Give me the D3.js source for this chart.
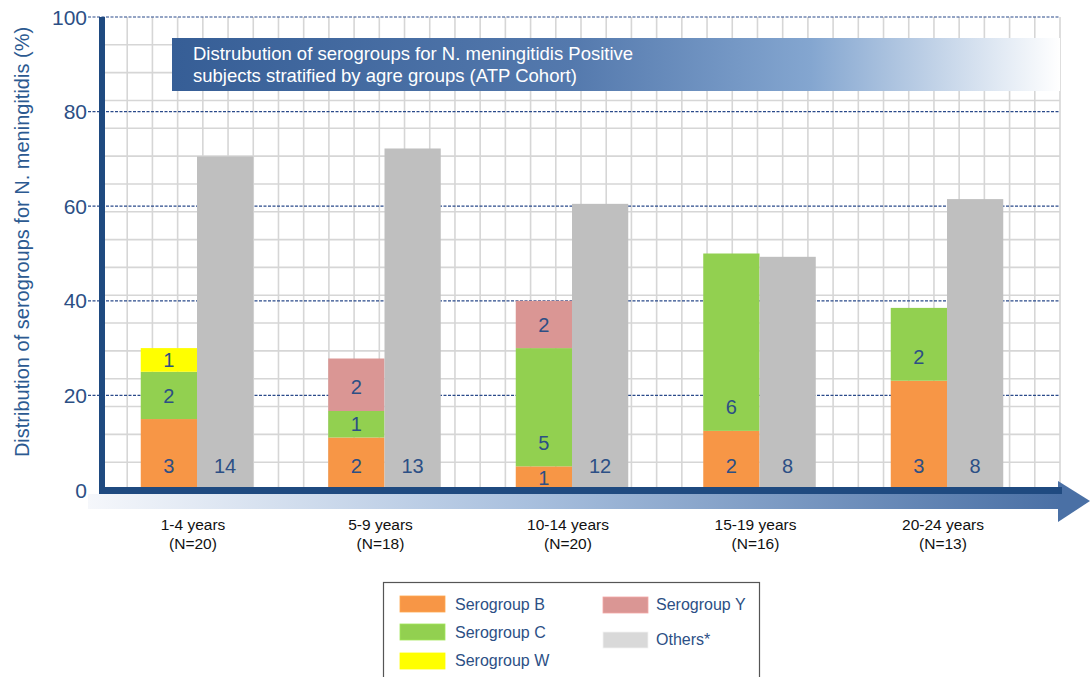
<!DOCTYPE html>
<html><head><meta charset="utf-8">
<script src="https://cdn.jsdelivr.net/npm/d3@7"></script>
<style>
html,body{margin:0;padding:0;background:#fff;}
svg{display:block;font-family:"Liberation Sans",Arial,Helvetica,sans-serif;}
</style></head>
<body>
<svg id="chart" width="1090" height="677"></svg>
<script>
// ---- data ----
const categories = ["1-4 years","5-9 years","10-14 years","15-19 years","20-24 years"];
const nLabels = ["(N=20)","(N=18)","(N=20)","(N=16)","(N=13)"];
// percentages (height of each segment, %)
const serogroupB = [15, 11.1, 5, 12.5, 23.1];
const serogroupC = [10, 5.6, 25, 37.5, 15.4];
const serogroupW = [5, 0, 0, 0, 0];
const serogroupY = [0, 11.1, 10, 0, 0];
const others     = [70.5, 72.2, 60.5, 49.3, 61.5];
// counts printed on segments
const countB = [3, 2, 1, 2, 3];
const countC = [2, 1, 5, 6, 2];
const countW = [1, null, null, null, null];
const countY = [null, 2, 2, null, null];
const countOthers = [14, 13, 12, 8, 8];
const yTicks = [0, 20, 40, 60, 80, 100];
const legendLabels = ["Serogroup B","Serogroup C","Serogroup W","Serogroup Y","Others*"];
const titleLines = ["Distrubution of serogroups for N. meningitidis Positive","subjects stratified by agre groups (ATP Cohort)"];
const yLabel = "Distribution of serogroups for N. meningitidis (%)";

// ---- styles ----
const col = {B:"#f79646", C:"#92d050", W:"#ffff00", Y:"#da9694", O:"#bfbfbf", Oleg:"#d9d9d9"};
const navy = "#1f4a80", textBlue = "#2c4f85";

const svg = d3.select("#chart");
const defs = svg.append("defs");

const plotL = 102, plotR = 1060, plotT = 17, plotB = 490;
const y = d3.scaleLinear().domain([0,100]).range([plotB, plotT]);
const x0 = d3.scaleBand().domain(categories).range([103.25, 1040.75]).paddingInner(0.4).paddingOuter(0.2);
const x1 = d3.scaleBand().domain(["stack","others"]).range([0, x0.bandwidth()]);

// graph-paper grid
const gridG = svg.append("g");
const vStep = (plotR - plotL) / 38, hStep = (plotB - plotT) / 17;
gridG.selectAll("line.v").data(d3.range(1, 39)).join("line")
  .attr("x1", i => plotL + i*vStep).attr("x2", i => plotL + i*vStep)
  .attr("y1", plotT).attr("y2", plotB)
  .attr("stroke", "#d6d6d6").attr("stroke-width", 1.6);
gridG.selectAll("line.h").data(d3.range(1, 17)).join("line")
  .attr("x1", plotL).attr("x2", plotR)
  .attr("y1", i => plotT + i*hStep).attr("y2", i => plotT + i*hStep)
  .attr("stroke", "#d6d6d6").attr("stroke-width", 1.6);

// dashed major lines + tick labels
const yAxis = svg.append("g");
yAxis.selectAll("line").data(yTicks.filter(d => d > 0)).join("line")
  .attr("x1", 88).attr("x2", plotR)
  .attr("y1", d => y(d)).attr("y2", d => y(d))
  .attr("stroke", "#2a4a8a").attr("stroke-width", 1.2).attr("stroke-dasharray", "3,1.5");
yAxis.selectAll("text").data(yTicks).join("text")
  .attr("x", 87).attr("y", d => y(d)).attr("dy", "0.36em")
  .attr("text-anchor", "end").attr("font-size", 21).attr("fill", textBlue)
  .text(d => d);

// bars
const series = [
  {key:"B", vals:serogroupB, counts:countB},
  {key:"C", vals:serogroupC, counts:countC},
  {key:"W", vals:serogroupW, counts:countW},
  {key:"Y", vals:serogroupY, counts:countY}
];
const barsG = svg.append("g");
const labelsG = svg.append("g");
categories.forEach((cat, i) => {
  let base = 0;
  const gx = x0(cat);
  series.forEach(s => {
    const v = s.vals[i];
    if (v > 0) {
      const y0p = y(base), y1p = y(base + v);
      barsG.append("rect")
        .attr("x", gx + x1("stack")).attr("width", x1.bandwidth())
        .attr("y", y1p).attr("height", y0p - y1p).attr("fill", col[s.key]);
      if (s.counts[i] != null) {
        const ly = Math.max((y0p + y1p) / 2, y0p - 24);
        labelsG.append("text")
          .attr("x", gx + x1("stack") + x1.bandwidth()/2).attr("y", ly).attr("dy", "0.36em")
          .attr("text-anchor", "middle").attr("font-size", 20).attr("fill", textBlue)
          .text(s.counts[i]);
      }
    }
    base += v;
  });
  const yo = y(others[i]);
  barsG.append("rect")
    .attr("x", gx + x1("others")).attr("width", x1.bandwidth())
    .attr("y", yo).attr("height", y(0) - yo).attr("fill", col.O);
  labelsG.append("text")
    .attr("x", gx + x1("others") + x1.bandwidth()/2)
    .attr("y", Math.max((y(0)+yo)/2, y(0) - 24)).attr("dy", "0.36em")
    .attr("text-anchor", "middle").attr("font-size", 20).attr("fill", textBlue)
    .text(countOthers[i]);
});
barsG.raise(); labelsG.raise();

// title banner
const bg = defs.append("linearGradient").attr("id", "bannerGrad");
bg.append("stop").attr("offset", "0%").attr("stop-color", "#365e96");
bg.append("stop").attr("offset", "45%").attr("stop-color", "#5479ad");
bg.append("stop").attr("offset", "72%").attr("stop-color", "#84a6d0");
bg.append("stop").attr("offset", "100%").attr("stop-color", "#ffffff");
svg.append("rect").attr("x", 172).attr("y", 38).attr("width", plotR - 172).attr("height", 53)
  .attr("fill", "url(#bannerGrad)");
svg.append("g").selectAll("text").data(titleLines).join("text")
  .attr("x", 193).attr("y", (d, i) => 60 + i*22)
  .attr("font-size", 18.5).attr("fill", "#ffffff").text(d => d);

// x-axis gradient band + arrow
const ag = defs.append("linearGradient").attr("id", "axisGrad");
ag.append("stop").attr("offset", "0%").attr("stop-color", "#f5f7fb");
ag.append("stop").attr("offset", "45%").attr("stop-color", "#a9c0de");
ag.append("stop").attr("offset", "100%").attr("stop-color", "#4a70a5");
svg.append("rect").attr("x", 88).attr("y", 494).attr("width", 1060 - 88).attr("height", 15)
  .attr("fill", "url(#axisGrad)");
svg.append("path").attr("d", "M1058,481 L1090,501 L1058,522 Z").attr("fill", "#4a70a5");
// axis lines
svg.append("rect").attr("x", 99).attr("y", 487).attr("width", 1062 - 99).attr("height", 7).attr("fill", navy);
svg.append("rect").attr("x", 99).attr("y", plotT).attr("width", 6).attr("height", 494 - plotT).attr("fill", navy);

// x labels
const xl = svg.append("g");
categories.forEach((cat, i) => {
  const cx = x0(cat) + x0.bandwidth()/2 - 4;
  xl.append("text").attr("x", cx).attr("y", 530).attr("text-anchor", "middle")
    .attr("font-size", 15.5).attr("fill", "#111").text(cat);
  xl.append("text").attr("x", cx).attr("y", 549).attr("text-anchor", "middle")
    .attr("font-size", 15.5).attr("fill", "#111").text(nLabels[i]);
});

// y label
svg.append("text").attr("transform", "translate(29,242) rotate(-90)")
  .attr("text-anchor", "middle").attr("font-size", 20).attr("fill", "#2c5a91").text(yLabel);

// legend
const lg = svg.append("g");
lg.append("rect").attr("x", 383.5).attr("y", 582.5).attr("width", 376).attr("height", 110)
  .attr("fill", "#fff").attr("stroke", "#555").attr("stroke-width", 1.2);
const legendItems = [
  {label:legendLabels[0], c:col.B, sx:400, sy:596, tx:455, ty:610},
  {label:legendLabels[1], c:col.C, sx:400, sy:624, tx:455, ty:638},
  {label:legendLabels[2], c:col.W, sx:400, sy:653, tx:455, ty:666},
  {label:legendLabels[3], c:col.Y, sx:603, sy:597, tx:656, ty:610},
  {label:legendLabels[4], c:col.Oleg, sx:603, sy:632, tx:656, ty:645}
];
legendItems.forEach(d => {
  lg.append("rect").attr("x", d.sx).attr("y", d.sy).attr("width", 45).attr("height", 16)
    .attr("fill", d.c).attr("stroke", d3.color(d.c).brighter(0.3)).attr("stroke-width", 0.8);
  lg.append("text").attr("x", d.tx).attr("y", d.ty).attr("font-size", 16).attr("fill", textBlue).text(d.label);
});
</script>
</body></html>
